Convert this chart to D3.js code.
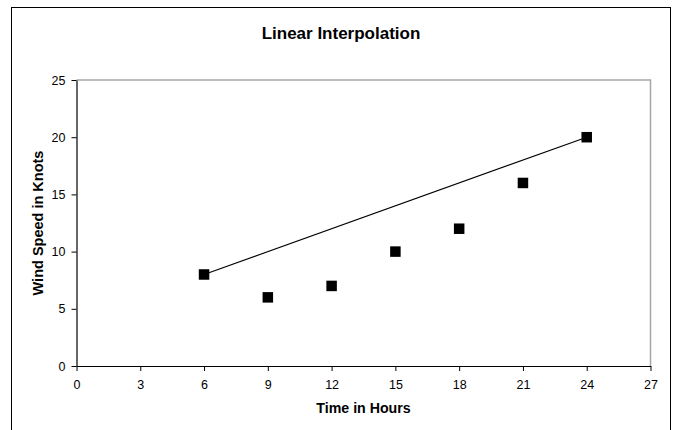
<!DOCTYPE html>
<html>
<head>
<meta charset="utf-8">
<script src="https://cdn.jsdelivr.net/npm/d3@7"></script>
<style>
  html, body { margin: 0; padding: 0; background: #fff; }
  svg { display: block; font-family: "Liberation Sans", Arial, sans-serif; }
</style>
</head>
<body>
<svg id="chart" width="674" height="430"></svg>
<script>
// Data
const hours = [6, 9, 12, 15, 18, 21, 24];
const windSpeed = [8, 6, 7, 10, 12, 16, 20];
const interpHours = [6, 24];
const interpSpeed = [8, 20];
const xTicks = [0, 3, 6, 9, 12, 15, 18, 21, 24, 27];
const yTicks = [0, 5, 10, 15, 20, 25];
const titleText = "Linear Interpolation";
const xTitle = "Time in Hours";
const yTitle = "Wind Speed in Knots";

const svg = d3.select("#chart");
const W = 674, H = 430;
const plot = { left: 76.5, right: 650.5, top: 80, bottom: 366 };

// Outer chart border
svg.append("rect")
  .attr("x", 11.5).attr("y", 7.5)
  .attr("width", 659).attr("height", 440)
  .attr("fill", "#fff").attr("stroke", "#000").attr("stroke-width", 1);

const x = d3.scaleLinear().domain([0, 27]).range([plot.left, plot.right]);
const y = d3.scaleLinear().domain([0, 25]).range([plot.bottom, plot.top]);

// Plot area top/right border (gray)
svg.append("path")
  .attr("d", `M${plot.left},${plot.top}H${plot.right}V${plot.bottom}`)
  .attr("fill", "none").attr("stroke", "#a6a6a6").attr("stroke-width", 1.5);

// Axes
const xAxis = svg.append("g")
  .attr("transform", `translate(0,${plot.bottom})`)
  .call(d3.axisBottom(x).tickValues(xTicks).tickSize(5).tickPadding(9).tickSizeOuter(0));
const yAxis = svg.append("g")
  .attr("transform", `translate(${plot.left},0)`)
  .call(d3.axisLeft(y).tickValues(yTicks).tickSize(5).tickPadding(6).tickSizeOuter(0));

[xAxis, yAxis].forEach(g => {
  g.select(".domain").attr("stroke", "#000").attr("stroke-width", 1.2);
  g.selectAll(".tick line").attr("stroke", "#000");
  g.selectAll(".tick text")
    .attr("fill", "#000")
    .style("font-size", "12.5px")
    .style("font-family", '"Liberation Sans", Arial, sans-serif');
});

// Interpolation line
const line = d3.line().x((d, i) => x(interpHours[i])).y((d, i) => y(interpSpeed[i]));
svg.append("path")
  .datum(interpHours)
  .attr("d", line)
  .attr("fill", "none")
  .attr("stroke", "#000")
  .attr("stroke-width", 1.2);

// Square markers
const ms = 10.5;
svg.append("g").selectAll("rect")
  .data(hours)
  .join("rect")
  .attr("x", (d) => x(d) - ms / 2)
  .attr("y", (d, i) => y(windSpeed[i]) - ms / 2)
  .attr("width", ms).attr("height", ms)
  .attr("fill", "#000");

// Titles
svg.append("text")
  .attr("x", 341).attr("y", 39)
  .attr("text-anchor", "middle")
  .style("font-size", "17px").style("font-weight", "bold")
  .text(titleText);

svg.append("text")
  .attr("x", (plot.left + plot.right) / 2).attr("y", 413)
  .attr("text-anchor", "middle")
  .style("font-size", "14.2px").style("font-weight", "bold")
  .text(xTitle);

svg.append("text")
  .attr("transform", `translate(43,${(plot.top + plot.bottom) / 2}) rotate(-90)`)
  .attr("text-anchor", "middle")
  .style("font-size", "14.5px").style("font-weight", "bold")
  .text(yTitle);
</script>
</body>
</html>
